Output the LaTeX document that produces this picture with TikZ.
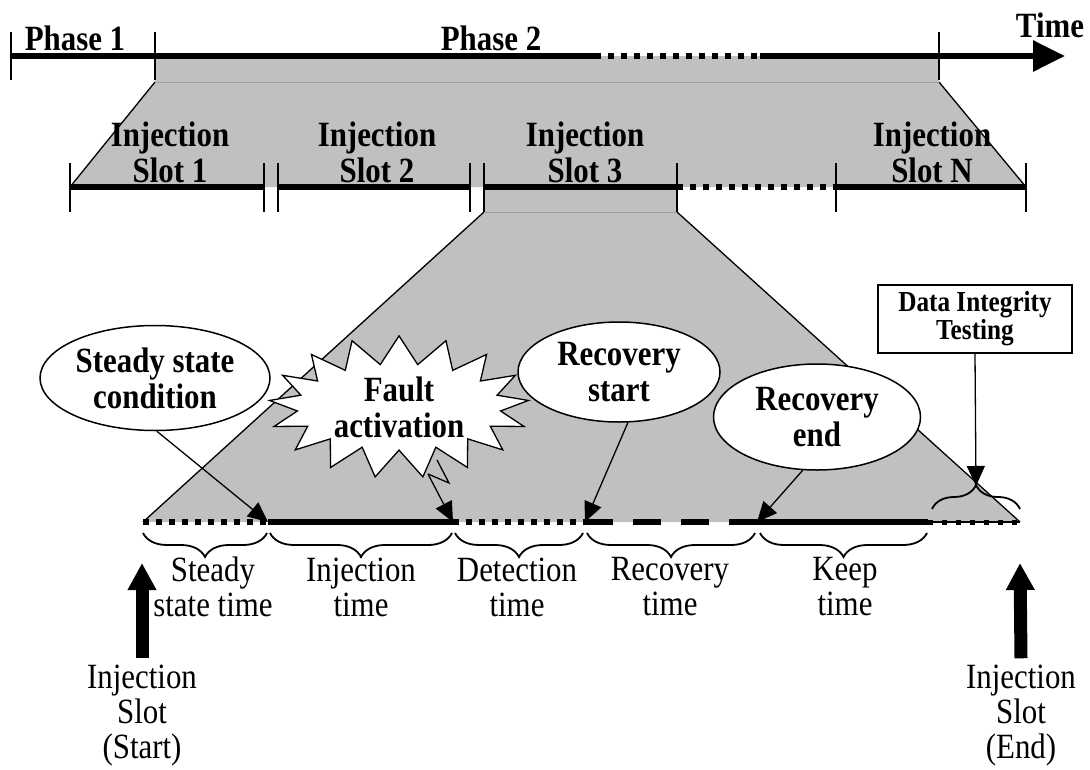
\documentclass[tikz,border=0pt]{standalone}
\usepackage{fontspec}
\setmainfont{Liberation Serif}[FakeStretch=0.87]
\usetikzlibrary{arrows.meta,shapes.geometric,shapes.symbols,decorations.pathreplacing}
\definecolor{fillgray}{RGB}{192,192,192}
\definecolor{edgegray}{RGB}{160,160,160}
\tikzset{
  bigb/.style={font=\fontsize{35.5}{36}\selectfont\bfseries, align=center, inner sep=0pt},
  regl/.style={font=\fontsize{35.5}{35}\selectfont, align=center, inner sep=0pt},
  ditfont/.style={font=\fontsize{29}{28}\selectfont\bfseries, align=center, inner sep=0pt},
  solidseg/.style={line width=6pt},
  slotseg/.style={line width=5.5pt},
  dotseg/.style={line width=6pt, dash pattern=on 6pt off 7pt},
  slotdot/.style={line width=5.5pt, dash pattern=on 6pt off 7pt},
  dashseg/.style={line width=6pt, dash pattern=on 28pt off 20pt},
  smalldot/.style={line width=5pt, dash pattern=on 5pt off 9pt},
  tickln/.style={line width=1.3pt},
  edgeln/.style={line width=1.3pt},
  graythin/.style={line width=1pt, draw=edgegray},
  callout/.style={ellipse, draw, line width=1.5pt, fill=white, inner sep=0pt,
    font=\fontsize{35.5}{36}\selectfont\bfseries, align=center},
  pointer/.style={line width=1.3pt, -{Triangle[length=20pt,width=18pt]}},
  bigarrow/.style={line width=13pt, -{Triangle[length=27pt,width=27pt]}},
  bracedown/.style={decorate, decoration={brace, mirror, amplitude=24pt}, line width=1.8pt},
  braceup/.style={decorate, decoration={brace, amplitude=24pt}, line width=1.8pt}
}
\begin{document}
\begin{tikzpicture}[x=1pt,y=-1pt]
\useasboundingbox (0,0) rectangle (1090,769);
% ---------- gray zoom regions ----------
\fill[fillgray] (155,56) rectangle (939,82);
\fill[fillgray] (155,82) -- (939,82) -- (1026,187) -- (70,187) -- cycle;
\draw[edgeln] (155,82) -- (70,187);
\draw[edgeln] (939,82) -- (1026,187);
\draw[graythin] (155,82) -- (939,82);
\fill[fillgray] (484,187) rectangle (677,212);
\fill[fillgray] (484,212) -- (677,212) -- (1020,522) -- (143,522) -- cycle;
\draw[edgeln] (484,212) -- (143,522);
\draw[edgeln] (677,212) -- (1020,522);
\draw[graythin] (484,212) -- (677,212);
% ---------- top timeline ----------
\coordinate (p0) at (11,56);
\coordinate (p2) at (595,56);
\coordinate (p3) at (760,56);
\coordinate (tend) at (1065,56);
\draw[solidseg] (p0) -- (p2);
\draw[dotseg] (p2) -- (p3);
\draw[solidseg, -{Triangle[length=32pt,width=30pt]}] (p3) -- (tend);
\foreach \x in {11,155,939} \draw[tickln] (\x,32) -- (\x,80);
\node[bigb, anchor=base] (ph1) at (75,50) {Phase 1};
\node[bigb, anchor=base] (ph2) at (491,50) {Phase 2};
\node[bigb, anchor=base] (time) at (1050,37) {Time};
% ---------- injection slots ----------
\draw[slotseg] (70,187) -- (264,187);
\draw[slotseg] (278,187) -- (470,187);
\draw[slotseg] (484,187) -- (677,187);
\draw[slotdot] (677,187) -- (836,187);
\draw[slotseg] (836,187) -- (1026,187);
\foreach \x in {70,264,278,470,484,677,836,1026} \draw[tickln] (\x,163) -- (\x,212);
\node[bigb] (s1) at (170,152) {Injection\\Slot 1};
\node[bigb] (s2) at (377,152) {Injection\\Slot 2};
\node[bigb] (s3) at (585,152) {Injection\\Slot 3};
\node[bigb] (sn) at (932,152) {Injection\\Slot N};
% ---------- bottom timeline ----------
\coordinate (b0) at (143,522);
\coordinate (b1) at (268,522);
\coordinate (b2) at (453,522);
\coordinate (b3) at (585,522);
\coordinate (b4) at (757,522);
\coordinate (b5) at (928,522);
\coordinate (b6) at (1020,522);
\draw[dotseg] (b0) -- (b1);
\draw[solidseg] (b1) -- (b2);
\draw[dotseg] (b2) -- (b3);
\draw[dashseg] (b3) -- (b4);
\draw[solidseg] (b4) -- (b5);
\draw[line width=1.5pt] (b5) -- (b6);
\draw[smalldot] (b5) -- (b6);
% braces
\draw[bracedown] (143,533) -- (267,533);
\draw[bracedown] (270,533) -- (452,533);
\draw[bracedown] (455,533) -- (583,533);
\draw[bracedown] (587,533) -- (755,533);
\draw[bracedown] (760,533) -- (927,533);
\draw[braceup] (932,509) -- (1020,509);
% bottom labels
\node[regl] (lst) at (213,587) {Steady\\state time};
\node[regl] (lin) at (361,587) {Injection\\time};
\node[regl] (lde) at (517,587) {Detection\\time};
\node[regl] (lre) at (670,587) {Recovery\\time};
\node[regl] (lke) at (845,587) {Keep\\time};
\node[regl] (lstart) at (142,716) {Injection\\Slot\\(Start)};
\node[regl] (lend) at (1021,716) {Injection\\Slot\\(End)};
\coordinate (sa) at (142,563);
\coordinate (ea) at (1020,563);
\draw[bigarrow] ([yshift=7pt]lstart.north) -- (sa);
\draw[bigarrow] ([yshift=7pt]lend.north) -- (ea);
% ---------- callouts ----------
\node[callout, minimum width=230pt, minimum height=105pt] (ss) at (155,378) {Steady state\\condition};
\node[starburst, draw, fill=white, line width=1.3pt, starburst points=17,
  starburst point height=28pt, random starburst=0, minimum width=260pt,
  minimum height=116pt, inner sep=0pt, align=center,
  font=\fontsize{35.5}{36}\selectfont\bfseries] (fa) at (399,407) {Fault\\activation};
\node[callout, minimum width=202pt, minimum height=100pt] (rs) at (619,372) {Recovery\\start};
\node[callout, minimum width=207pt, minimum height=106pt] (re) at (817,417) {Recovery\\end};
\node[draw, line width=1.5pt, fill=white, minimum width=194pt, minimum height=68pt, ditfont] (dit) at (975,319) {Data Integrity\\Testing};
% ---------- pointers ----------
\coordinate (fa1) at (437,460);
\coordinate (fa2) at (449,483);
\coordinate (fa3) at (428,474);
\coordinate (dtip) at (976,486);
\draw[pointer] (ss.-88) -- (b1);
\draw[line width=1.3pt] (fa1) -- (fa2) -- (fa3);
\draw[pointer] (fa3) -- (b2);
\draw[pointer] (rs.-80) -- (b3);
\draw[pointer] (re.-105) -- (b4);
\draw[pointer] (dit.south) -- (dtip);
\end{tikzpicture}
\end{document}
